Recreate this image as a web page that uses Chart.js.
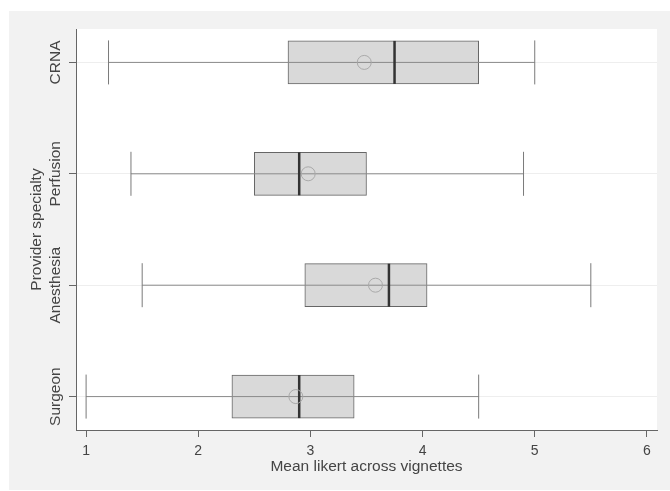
<!DOCTYPE html>
<html>
<head>
<meta charset="utf-8">
<script src="https://cdn.jsdelivr.net/npm/chart.js@4"></script>
<style>
  html, body { margin: 0; padding: 0; background: #fff; }
  #wrap { width: 670px; height: 491px; }
</style>
</head>
<body>
<div id="wrap"><canvas id="chart" width="670" height="491"></canvas></div>
<script>
// categories bottom -> top, placed at y = 0..3
const categories = ['Surgeon', 'Anesthesia', 'Perfusion', 'CRNA'];
const positions = [0, 1, 2, 3];
const whiskerLow = [1.0, 1.5, 1.4, 1.2];
const q1 = [2.3, 2.95, 2.5, 2.8];
const median = [2.9, 3.7, 2.9, 3.75];
const q3 = [3.39, 4.04, 3.5, 4.5];
const whiskerHigh = [4.5, 5.5, 4.9, 5.0];
const mean = [2.87, 3.58, 2.98, 3.48];
const xTicks = [1, 2, 3, 4, 5, 6];

const textColor = '#444';
const fontFamily = '"Liberation Sans", Arial, sans-serif';

const $canvas = document.getElementById('chart');
const ctx = $canvas.getContext('2d');

// gray panel + white plot area behind everything
const background = {
  id: 'background',
  beforeDraw(chart) {
    const c = chart.ctx;
    const a = chart.chartArea;
    c.save();
    c.fillStyle = '#fff';
    c.fillRect(0, 0, chart.width, chart.height);
    c.fillStyle = '#f2f2f2';
    c.fillRect(9, 11, chart.width - 9, 479);
    c.fillStyle = '#fff';
    c.fillRect(a.left, a.top, a.right - a.left, a.bottom - a.top);
    c.restore();
  }
};

// rotated category labels on the y axis
const yLabels = {
  id: 'yLabels',
  afterDraw(chart) {
    const c = chart.ctx;
    const y = chart.scales.y;
    c.save();
    c.fillStyle = textColor;
    c.font = '15.5px ' + fontFamily;
    c.textAlign = 'center';
    c.textBaseline = 'middle';
    categories.forEach((name, i) => {
      c.save();
      c.translate(56, y.getPixelForValue(positions[i]));
      c.rotate(-Math.PI / 2);
      c.fillText(name, 0, 0);
      c.restore();
    });
    c.restore();
  }
};

const whiskerSets = categories.map((name, i) => ({
  type: 'line',
  label: 'whisker ' + name,
  data: [{ x: whiskerLow[i], y: positions[i] }, { x: whiskerHigh[i], y: positions[i] }],
  borderColor: '#8a8a8a',
  borderWidth: 1,
  pointRadius: 0,
  order: 2,
}));

const data = {
  datasets: [
    {
      type: 'bar',
      label: 'box',
      data: positions.map((p, i) => ({ x: [q1[i], q3[i]], y: p })),
      backgroundColor: '#d9d9d9',
      borderColor: '#666',
      borderWidth: 1,
      borderSkipped: false,
      barThickness: 43,
      order: 3,
    },
    ...whiskerSets,
    {
      type: 'scatter',
      label: 'caps',
      data: positions.flatMap((p, i) => [{ x: whiskerLow[i], y: p }, { x: whiskerHigh[i], y: p }]),
      pointStyle: 'line',
      rotation: 90,
      radius: 22,
      borderColor: '#7a7a7a',
      borderWidth: 1,
      order: 1,
    },
    {
      type: 'scatter',
      label: 'median',
      data: positions.map((p, i) => ({ x: median[i], y: p })),
      pointStyle: 'line',
      rotation: 90,
      radius: 21.5,
      borderColor: '#333',
      borderWidth: 2.5,
      order: 1,
    },
    {
      type: 'scatter',
      label: 'mean',
      data: positions.map((p, i) => ({ x: mean[i], y: p })),
      pointStyle: 'circle',
      radius: 7,
      borderColor: '#aaa',
      backgroundColor: 'rgba(0,0,0,0)',
      borderWidth: 1,
      order: 0,
    },
  ],
};

const config = {
  type: 'bar',
  data: data,
  plugins: [background, yLabels],
  options: {
    indexAxis: 'y',
    responsive: false,
    animation: false,
    layout: { autoPadding: false, padding: { left: 9, top: 29, right: 13, bottom: 0 } },
    plugins: {
      legend: { display: false },
      tooltip: { enabled: false },
    },
    scales: {
      x: {
        type: 'linear',
        min: 0.91,
        max: 6.09,
        offset: false,
        afterBuildTicks: (s) => { s.ticks = xTicks.map(v => ({ value: v })); },
        afterFit: (s) => { s.height = 61; s.paddingLeft = 0; s.paddingRight = 0; },
        border: { color: '#666', width: 1 },
        grid: { drawOnChartArea: false, tickLength: 7, tickColor: '#666', offset: false },
        ticks: { color: textColor, padding: 6, font: { family: fontFamily, size: 14 } },
        title: {
          display: true,
          text: 'Mean likert across vignettes',
          color: textColor,
          font: { family: fontFamily, size: 15.5 },
          padding: { top: 0, bottom: 15 },
        },
      },
      y: {
        type: 'linear',
        min: -0.3,
        max: 3.3,
        offset: false,
        afterBuildTicks: (s) => { s.ticks = positions.map(v => ({ value: v })); },
        afterFit: (s) => { s.width = 67; s.paddingTop = 0; s.paddingBottom = 0; },
        border: { color: '#666', width: 1 },
        grid: { color: '#eeeeee', tickLength: 7, tickColor: '#666', offset: false },
        ticks: { display: false },
        title: {
          display: true,
          text: 'Provider specialty',
          color: textColor,
          font: { family: fontFamily, size: 15.5 },
          padding: { top: 18, bottom: 0 },
        },
      },
    },
  },
};

new Chart(ctx, config);
</script>
</body>
</html>
